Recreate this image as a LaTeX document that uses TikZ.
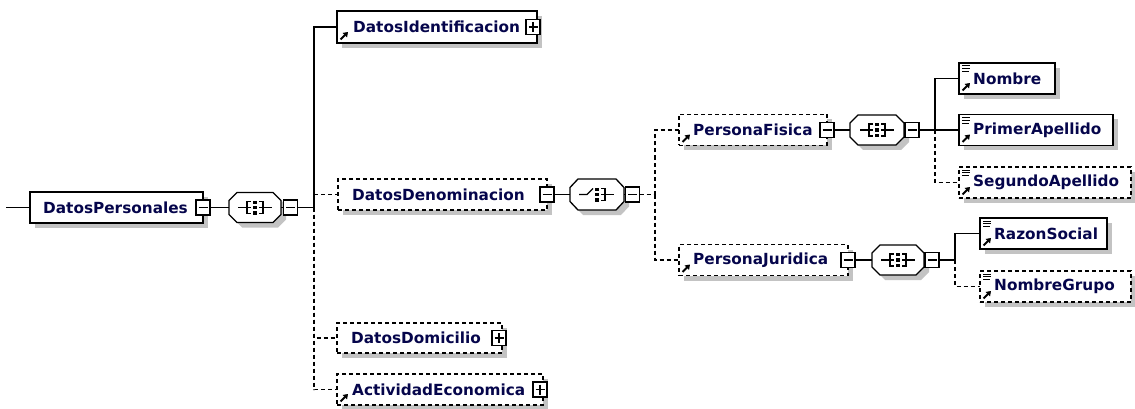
\documentclass[tikz,border=0pt]{standalone}
\usepackage{fontspec}
\newfontfamily\lblfont{DejaVu Sans}
\usetikzlibrary{arrows.meta,shadows}
\definecolor{txt}{RGB}{5,5,75}
\definecolor{shd}{RGB}{195,195,195}
\tikzset{
  conn/.style={line width=1.3pt},
  dconn/.style={line width=1.3pt, dash pattern=on 4pt off 3pt},
  elem/.style={draw, line width=1.3pt, fill=white, inner sep=0pt, outer sep=0pt, rectangle,
    drop shadow={shadow xshift=5pt, shadow yshift=-5pt, fill=shd, opacity=1}},
  opt/.style={dash pattern=on 4pt off 3pt},
  lbl/.style={font=\lblfont\bfseries\fontsize{15.3}{16}\selectfont, text=txt, inner sep=0pt, anchor=west},
  comp/.style={rectangle, inner sep=0pt, outer sep=0pt, minimum width=52pt, minimum height=30pt},
  tog/.style={draw, fill=white, line width=1.2pt, rectangle, inner sep=0pt, outer sep=0pt, minimum width=14pt, minimum height=15pt},
  minus/.style={tog, path picture={\draw[line width=1.2pt] ([xshift=2.5pt]path picture bounding box.west) -- ([xshift=-2.5pt]path picture bounding box.east);}},
  plus/.style={tog, path picture={\draw[line width=1.2pt] ([xshift=2.5pt]path picture bounding box.west) -- ([xshift=-2.5pt]path picture bounding box.east) ([yshift=-2.5pt]path picture bounding box.north) -- ([yshift=2.5pt]path picture bounding box.south);}},
}
\newcommand\octagon[1]{%
  \fill[shd] ([shift={(5,-2)}]#1.west) -- ([shift={(13,5)}]#1.north west) -- ([shift={(-3,5)}]#1.north east) -- ([shift={(5,-2)}]#1.east) -- ([shift={(5,12)}]#1.east) -- ([shift={(-3,5)}]#1.south east) -- ([shift={(13,5)}]#1.south west) -- ([shift={(5,12)}]#1.west) -- cycle;
  \draw[line width=1.3pt, fill=white] ([shift={(0,-7)}]#1.west) -- ([shift={(8,0)}]#1.north west) -- ([shift={(-8,0)}]#1.north east) -- ([shift={(0,-7)}]#1.east) -- ([shift={(0,7)}]#1.east) -- ([shift={(-8,0)}]#1.south east) -- ([shift={(8,0)}]#1.south west) -- ([shift={(0,7)}]#1.west) -- cycle;}
\newcommand\icondots[1]{%
  \fill ([shift={(-1.7,-7)}]#1.center) rectangle ([shift={(1.7,-3.6)}]#1.center);
  \fill ([shift={(-1.7,-1.7)}]#1.center) rectangle ([shift={(1.7,1.7)}]#1.center);
  \fill ([shift={(-1.7,3.6)}]#1.center) rectangle ([shift={(1.7,7)}]#1.center);
  \draw[line width=1.2pt] ([shift={(4,-6)}]#1.center) -- ([shift={(8,-6)}]#1.center) -- ([shift={(8,6)}]#1.center) -- ([shift={(4,6)}]#1.center)
     ([shift={(4,0)}]#1.center) -- ([shift={(17,0)}]#1.center);}
\newcommand\seqicon[1]{%
  \icondots{#1}%
  \draw[line width=1.2pt] ([shift={(-4,-6)}]#1.center) -- ([shift={(-8,-6)}]#1.center) -- ([shift={(-8,6)}]#1.center) -- ([shift={(-4,6)}]#1.center)
     ([shift={(-17,0)}]#1.center) -- ([shift={(-4,0)}]#1.center);}
\newcommand\choiceicon[1]{%
  \icondots{#1}%
  \draw[line width=1.2pt] ([shift={(-18,0)}]#1.center) -- ([shift={(-10,0)}]#1.center) -- ([shift={(-4,-6)}]#1.center);}
\newcommand\reficon[1]{%
  \draw[line width=1.8pt, -{Triangle[length=4.5pt,width=6pt]}] ([shift={(3.5,-3.5)}]#1.south west) -- ([shift={(11,-11)}]#1.south west);}
\newcommand\linesicon[1]{%
  \draw[line width=1pt] ([shift={(3,3)}]#1.north west) -- ([shift={(11,3)}]#1.north west)
     ([shift={(3,5.8)}]#1.north west) -- ([shift={(11,5.8)}]#1.north west)
     ([shift={(3,8.6)}]#1.north west) -- ([shift={(10,8.6)}]#1.north west);}
\begin{document}
\begin{tikzpicture}[x=1pt,y=-1pt]
\useasboundingbox (0,0) rectangle (1135,409);
% element boxes
\node[elem, minimum width=173pt, minimum height=31pt] (dp) at (116.5,207.5) {};
\node[elem, minimum width=200pt, minimum height=32pt] (di) at (437,27) {};
\node[elem, opt, minimum width=209pt, minimum height=31pt] (dd) at (442.5,194.5) {};
\node[elem, opt, minimum width=165pt, minimum height=30pt] (dm) at (419.5,338) {};
\node[elem, opt, minimum width=206pt, minimum height=31pt] (ae) at (440,389.5) {};
\node[elem, opt, minimum width=148pt, minimum height=31pt] (pf) at (753,130) {};
\node[elem, opt, minimum width=169pt, minimum height=31pt] (pj) at (763.5,260) {};
\node[elem, minimum width=96pt, minimum height=31pt] (no) at (1007,78.5) {};
\node[elem, minimum width=154pt, minimum height=31pt] (pa) at (1036,130) {};
\node[elem, opt, minimum width=172pt, minimum height=31pt] (sa) at (1045,182.5) {};
\node[elem, minimum width=127pt, minimum height=31pt] (rs) at (1043.5,233.5) {};
\node[elem, opt, minimum width=151pt, minimum height=31pt] (ng) at (1055.5,286.5) {};
% labels
\node[lbl] (dpt) at ([xshift=13pt]dp.west) {DatosPersonales};
\node[lbl] (dit) at ([xshift=16pt]di.west) {DatosIdentificacion};
\node[lbl] (ddt) at ([xshift=14pt]dd.west) {DatosDenominacion};
\node[lbl] (dmt) at ([xshift=14pt]dm.west) {DatosDomicilio};
\node[lbl] (aet) at ([xshift=15pt]ae.west) {ActividadEconomica};
\node[lbl] (pft) at ([xshift=14pt]pf.west) {PersonaFisica};
\node[lbl] (pjt) at ([xshift=14pt]pj.west) {PersonaJuridica};
\node[lbl] (not) at ([xshift=14pt]no.west) {Nombre};
\node[lbl] (pat) at ([xshift=14pt]pa.west) {PrimerApellido};
\node[lbl] (sat) at ([xshift=14pt]sa.west) {SegundoApellido};
\node[lbl] (rst) at ([xshift=14pt]rs.west) {RazonSocial};
\node[lbl] (ngt) at ([xshift=14pt]ng.west) {NombreGrupo};
% icons
\reficon{di}\reficon{ae}\reficon{pf}\reficon{pj}
\reficon{no}\reficon{pa}\reficon{sa}\reficon{rs}\reficon{ng}
\linesicon{no}\linesicon{pa}\linesicon{sa}\linesicon{rs}\linesicon{ng}
% compositors
\node[comp] (s1) at (255,207.5) {};
\node[comp, minimum width=54pt, minimum height=31pt] (c1) at (597,194.5) {};
\node[comp, minimum width=54pt] (s2) at (877,130) {};
\node[comp] (s3) at (898,260) {};
\octagon{s1}\octagon{c1}\octagon{s2}\octagon{s3}
\seqicon{s1}\choiceicon{c1}\seqicon{s2}\seqicon{s3}
% toggles
\node[minus] (mdp) at (dp.east) {};
\node[minus] (mdd) at (dd.east) {};
\node[minus] (mpf) at (pf.east) {};
\node[minus] (mpj) at (pj.east) {};
\node[minus] (m1) at (290.5,207.5) {};
\node[minus] (m2) at (632.5,194.5) {};
\node[minus] (m3) at (912,130) {};
\node[minus] (m4) at (932,260) {};
\node[plus] (pdi) at ([xshift=-4pt]di.east) {};
\node[plus] (pdm) at ([xshift=-3pt]dm.east) {};
\node[plus] (pae) at ([xshift=-3pt]ae.east) {};
% junctions
\coordinate (start) at (6,207.5);
\coordinate (j1) at (314,207.5);
\coordinate (j2) at (655,194.5);
\coordinate (j3) at (935,130);
\coordinate (j4) at (955,260);
% connectors
\draw[conn] (start) -- (dp.west);
\draw[conn] (mdp.east) -- (s1.west);
\draw[conn] (s1.east) -- (m1.west);
\draw[conn] (m1.east) -- (j1) |- (di.west);
\draw[dconn] (j1 |- dd.west) -- (dd.west);
\draw[dconn] (j1) |- (dm.west);
\draw[dconn] (j1) |- (ae.west);
\draw[conn] (mdd.east) -- (c1.west);
\draw[conn] (c1.east) -- (m2.west);
\draw[dconn] (m2.east) -- (j2);
\draw[dconn] (j2) |- (pf.west);
\draw[dconn] (j2) |- (pj.west);
\draw[conn] (mpf.east) -- (s2.west);
\draw[conn] (s2.east) -- (m3.west);
\draw[conn] (m3.east) -- (pa.west);
\draw[conn] (j3) |- (no.west);
\draw[dconn] (j3) |- (sa.west);
\draw[conn] (mpj.east) -- (s3.west);
\draw[conn] (s3.east) -- (m4.west);
\draw[conn] (m4.east) -- (j4) |- (rs.west);
\draw[dconn] (j4) |- (ng.west);
\end{tikzpicture}
\end{document}
